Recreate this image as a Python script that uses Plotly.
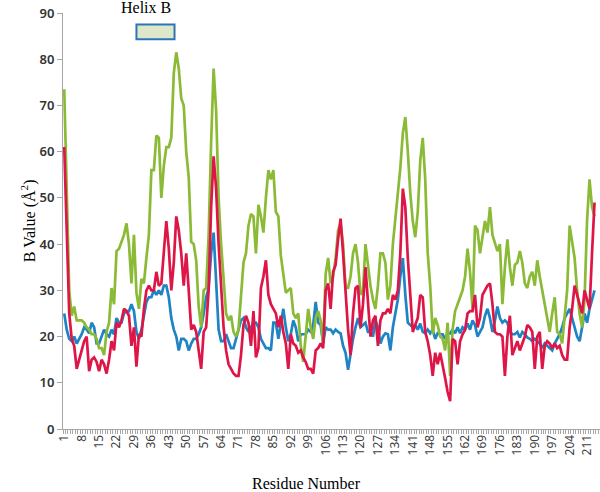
import plotly.graph_objects as go

residues = list(range(1, 215))

green_vals = [
    73.5, 50, 30, 24.5, 26.5, 23.5, 23.5, 23.5, 23, 22,
    21.5, 20.5, 20.5, 19.5, 17.5, 17.5, 16, 21, 23, 30.5,
    27, 38.5, 39, 40.5, 42, 44.5, 40, 31.5, 42, 29.5,
    26, 32.5, 31.5, 37, 42, 56, 56, 63.5, 63, 50,
    57, 61, 61, 63, 77, 81.5, 78, 71.5, 70, 60,
    54.5, 40.5, 40, 36.5, 26.5, 22, 30, 30.5, 42, 62,
    78, 69, 50, 40, 32, 25, 23.5, 24.5, 21, 20,
    21.5, 28, 36, 38, 44, 46.5, 46, 38, 48.5, 46,
    42.5, 50, 56, 54, 56, 47, 46, 37.5, 33, 29.5,
    30, 30.5, 25, 24, 25, 18, 14.5, 21, 26, 22,
    19.5, 24, 25.5, 23.5, 18.5, 33.5, 37, 31.5, 33, 37,
    43, 44.5, 40, 30.5, 30.5, 33, 38, 40, 36, 29,
    30, 40, 35, 31, 28, 26, 31, 38, 38, 36,
    28, 31, 40, 45, 50, 56.5, 64, 67.5, 60, 51,
    45, 41.5, 47, 58, 63, 54, 38, 31, 20.5, 24,
    22.5, 20, 19.5, 17, 23, 11.5, 21.5, 25.5, 27, 28.5,
    30, 33, 39, 34, 26, 44, 43, 38, 42, 45,
    42.5, 48, 42, 40, 38.5, 40, 27, 35, 41, 35,
    31, 35.5, 36, 38.5, 36, 31.5, 30.5, 33, 34, 31,
    36.5, 33, 30, 27, 23.5, 21, 25, 28.5, 21, 20.5,
    18.5, 25, 30, 44, 40, 37, 30, 25, 22, 28,
    45, 54, 48, 46,
]

red_vals = [
    61, 45, 25, 19.5, 18, 13, 15, 17, 19, 20,
    12.5, 15, 15.5, 14.5, 12.5, 15, 14, 12, 15, 19,
    17, 23, 22, 23.5, 26, 25.5, 24.5, 18, 22, 13.5,
    20.5, 20, 26, 30, 31, 30, 30, 34, 31, 31.5,
    38, 45, 39, 30, 36, 46, 43, 38, 31, 38,
    30, 21.5, 22.5, 21, 17, 13, 21, 22, 30, 48,
    59, 52, 40, 31, 22, 17, 14, 13, 12, 11.5,
    11.5, 16, 22.5, 24.5, 23, 18, 25.5, 15.5, 17.5, 30.5,
    33, 36.5, 29, 27, 26, 25, 22, 24.5, 21, 18.5,
    13, 20.5, 18.5, 18, 16.5, 17, 15.5, 14.5, 13, 13,
    12, 17, 17.5, 18.5, 17.5, 30, 31.5, 26, 34, 35.5,
    41, 45.5, 38, 29, 21.5, 16, 25, 30.5, 31, 22,
    27, 35, 27, 20, 23.5, 24.5, 18, 23.5, 25, 25,
    26, 25, 29, 28, 30, 38, 52, 48, 37, 28,
    21, 22.5, 24, 29, 28.5, 21, 19, 16, 11.5, 16.5,
    14, 16.5, 14, 11, 8, 6, 19.5, 19, 14, 19,
    20.5, 21.5, 25, 25.5, 25.5, 29, 22, 24, 29, 30,
    31, 31.5, 27, 21, 20.5, 20.5, 20, 11.5, 20, 24.5,
    16, 17.5, 19, 17, 18.5, 20, 22.5, 22, 21, 13,
    20, 21, 13, 18, 19, 18.5, 17.5, 18.5, 17.5, 18,
    16, 15, 15, 22, 26, 31, 29, 27, 25, 30,
    28, 26, 38, 49,
]

blue_vals = [
    25, 21.5, 19.5, 19, 20, 18.5, 19.5, 20.5, 22, 21.5,
    20.7, 23, 22, 18.5, 18.5, 20, 21.5, 20.5, 20, 21.5,
    20.5, 24, 23, 23, 25, 25.5, 25.5, 27, 25.5, 21,
    19.5, 21.5, 25, 27.5, 28.5, 28.5, 30, 29, 30, 29,
    31, 31, 28.5, 24, 21.5, 20, 17, 19.5, 19.5, 19,
    17, 18.5, 19.5, 19.5, 20.5, 22, 25, 28.5, 30.5, 38,
    42.5, 33, 21.5, 19, 19, 20.5, 19, 17.5, 17.5, 19.5,
    21, 23.5, 24, 22, 21, 22, 23, 23, 22, 19.5,
    18.5, 17.5, 17.5, 17, 23, 23, 19.5, 23, 26, 22,
    19, 20.5, 23.5, 22, 19, 20.5, 20.5, 20.5, 21.5, 21,
    22.5, 27.5, 23, 22.5, 18.5, 22, 21.5, 21.5, 20.7, 21.5,
    21, 20.7, 18, 16.5, 12.8, 16.5, 19.5, 22, 24, 22,
    22.5, 23, 21, 21, 20, 23.5, 22, 18.5, 20, 20.7,
    20.5, 17, 22, 25, 28, 33, 37, 29, 23, 22.5,
    22, 22.5, 21.5, 22.8, 21, 20.7, 21.5, 20.7, 21.5, 19.5,
    20.7, 20.5, 20.5, 19.5, 20.7, 20.7, 21.5, 20.7, 22, 20.7,
    22, 21.5, 22.8, 21.5, 23.5, 22.5, 20, 21, 22, 24.5,
    26, 24, 21, 23.5, 26.5, 24, 23, 23.5, 23, 21,
    20.5, 20.5, 21, 19.8, 21, 20.5, 19.8, 19.5, 19, 19.5,
    19, 18.5, 17.5, 18.5, 18, 17.5, 17, 18.5, 19.5, 20.5,
    22, 24, 25, 26, 24, 22, 20, 19, 22, 25,
    23, 26, 28, 30,
]

x_tick_vals = list(range(1, 212, 7))
x_tick_text = [str(v) for v in x_tick_vals]
y_tick_vals = list(range(0, 91, 10))

helix_label = "Helix B"
helix_start = 30
helix_end = 45.3
helix_box_low = 84.3
helix_box_high = 87.5

fig = go.Figure()
series = [
    (blue_vals, "#1F83C4"),
    (green_vals, "#8BBA36"),
    (red_vals, "#DE1647"),
]
for vals, color in series:
    fig.add_trace(go.Scatter(
        x=residues, y=vals, mode="lines",
        line=dict(color=color, width=2.7),
        showlegend=False, hoverinfo="skip",
    ))

fig.add_shape(type="rect", xref="x", yref="y",
              x0=helix_start, x1=helix_end, y0=helix_box_low, y1=helix_box_high,
              line=dict(color="#2E75B6", width=2), fillcolor="#DDE8CA")

serif = "Liberation Serif"
fig.add_annotation(x=33.9, y=1.014, xref="x", yref="paper", text=helix_label,
                   xanchor="center", yanchor="middle",
                   showarrow=False, font=dict(family=serif, size=16, color="black"))
fig.add_annotation(x=0.454, y=-0.13, xref="paper", yref="paper", text="Residue Number",
                   xanchor="center", yanchor="middle",
                   showarrow=False, font=dict(family=serif, size=16, color="black"))
fig.add_annotation(x=-0.0652, y=0.502, xref="paper", yref="paper",
                   text="B Value (Å<sup>2</sup>)", textangle=-90,
                   xanchor="center", yanchor="middle",
                   showarrow=False, font=dict(family=serif, size=16, color="black"))

fig.update_layout(
    width=600, height=492,
    margin=dict(l=63, r=0, t=13, b=63, autoexpand=False),
    plot_bgcolor="white", paper_bgcolor="white",
    xaxis=dict(
        range=[0.5, 216.2], showgrid=False, zeroline=False, automargin=False,
        showline=True, linecolor="#A6A6A6", linewidth=1,
        tickmode="array", tickvals=x_tick_vals, ticktext=x_tick_text,
        tickangle=-90, ticks="",
        tickfont=dict(family="Noto Sans", size=12, color="#404040"),
        minor=dict(ticks="outside", tick0=0.5, dtick=1, ticklen=4,
                   tickcolor="#A6A6A6", showgrid=False),
    ),
    yaxis=dict(
        range=[0, 90], showgrid=False, zeroline=False, automargin=False,
        showline=True, linecolor="#A6A6A6", linewidth=1,
        tickmode="array", tickvals=y_tick_vals,
        ticks="outside", ticklen=5, tickcolor="#A6A6A6",
        tickfont=dict(family="Noto Sans", size=13, color="#333333", weight=600),
    ),
)

fig.write_html("out.html", config={"displayModeBar": False},
               post_script="document.body.style.margin='0';")
